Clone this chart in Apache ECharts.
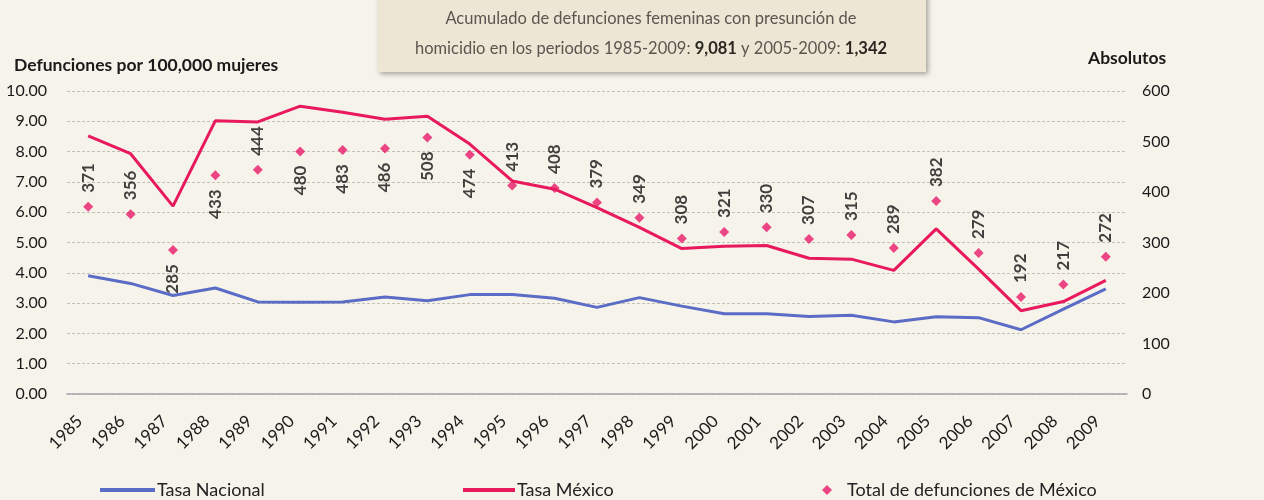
<!DOCTYPE html>
<html>
<head>
<meta charset="utf-8">
<script src="https://cdn.jsdelivr.net/npm/echarts@6/dist/echarts.min.js"></script>
<style>
html,body{margin:0;padding:0;background:#f6f3ea;}
#c{width:1264px;height:500px;}
</style>
</head>
<body>
<div id="c"></div>
<script>
const years = ['1985','1986','1987','1988','1989','1990','1991','1992','1993','1994','1995','1996','1997','1998','1999','2000','2001','2002','2003','2004','2005','2006','2007','2008','2009'];
const tasaNacional = [3.9,3.65,3.25,3.5,3.04,3.03,3.04,3.2,3.08,3.28,3.28,3.16,2.86,3.18,2.9,2.65,2.65,2.56,2.6,2.38,2.55,2.52,2.12,2.8,3.47];
const tasaMexico = [8.52,7.93,6.2,9.02,8.98,9.5,9.3,9.07,9.17,8.25,7.03,6.76,6.15,5.5,4.8,4.88,4.9,4.48,4.45,4.08,5.45,4.12,2.75,3.05,3.75];
const totalMexico = [371,356,285,433,444,480,483,486,508,474,413,408,379,349,308,321,330,307,315,289,382,279,192,217,272];
const leftTicks = [0,1,2,3,4,5,6,7,8,9,10];
const rightTicks = [0,100,200,300,400,500,600];
const labelsBelow = ['1987','1988','1990','1991','1992','1993','1994'];

const FONT = 'Lato, "Noto Sans", sans-serif';
const chart = echarts.init(document.getElementById('c'));

const scatterData = totalMexico.map((v, i) => {
  const below = labelsBelow.indexOf(years[i]) >= 0;
  return {
    value: v,
    label: below
      ? {position: 'bottom', align: 'right', distance: 9}
      : {position: 'top', align: 'left', distance: 9}
  };
});

chart.setOption({
  backgroundColor: '#f6f3ea',
  animation: false,
  title: [
    {text: 'Defunciones por 100,000 mujeres', left: 9, top: 51,
     textStyle: {fontFamily: FONT, fontSize: 17.5, fontWeight: 'bold', color: '#1a1a1a'}},
    {text: 'Absolutos', left: 1083, top: 44,
     textStyle: {fontFamily: FONT, fontSize: 17.5, fontWeight: 'bold', color: '#1a1a1a'}}
  ],
  graphic: [
    {type: 'rect', z: 10, shape: {x: 378, y: -6, width: 548, height: 78},
     style: {fill: '#ede6d4', shadowBlur: 5, shadowColor: 'rgba(0,0,0,0.35)', shadowOffsetX: 2, shadowOffsetY: 2}},
    {type: 'text', z: 11, style: {
      x: 651, y: 34, align: 'center', verticalAlign: 'middle',
      text: 'Acumulado de defunciones femeninas con presunción de\nhomicidio en los periodos 1985-2009: {b|9,081} y 2005-2009: {b|1,342}',
      fontFamily: FONT, fontSize: 16.5, fill: '#5a5650', lineHeight: 30,
      rich: {b: {fontFamily: FONT, fontSize: 16.5, fontWeight: 'bold', fill: '#2a2620', lineHeight: 30}}
    }}
  ],
  legend: [
    {data: ['Tasa Nacional'], left: 95, top: 476, itemWidth: 55, itemHeight: 4, icon: 'rect',
     textStyle: {fontFamily: FONT, fontSize: 18, color: '#222', padding: [0,0,0,-3]}},
    {data: ['Tasa México'], left: 458, top: 476, itemWidth: 52, itemHeight: 4, icon: 'rect',
     textStyle: {fontFamily: FONT, fontSize: 18, color: '#222', padding: [0,0,0,-3]}},
    {data: ['Total de defunciones de México'], left: 817, top: 476, itemWidth: 10, itemHeight: 10, icon: 'diamond',
     textStyle: {fontFamily: FONT, fontSize: 18, color: '#222', padding: [0,0,0,10]}}
  ],
  grid: {left: 67, right: 137, top: 91, bottom: 106},
  xAxis: {
    type: 'category', data: years, boundaryGap: true,
    axisLine: {lineStyle: {color: '#a8a4b2', width: 1.5}},
    axisTick: {inside: true, length: 4, lineStyle: {color: '#a8a4b2'}},
    axisLabel: {rotate: 45, margin: 16, interval: 0, fontFamily: FONT, fontSize: 17, color: '#1a1a1a', padding: [0, 12, 0, 0]}
  },
  yAxis: [
    {type: 'value', min: leftTicks[0], max: leftTicks[leftTicks.length-1], interval: 1,
     axisLine: {show: false}, axisTick: {show: false},
     axisLabel: {margin: 20, fontFamily: FONT, fontSize: 16, color: '#1a1a1a', formatter: v => v.toFixed(2)},
     splitLine: {lineStyle: {color: '#c4c0b8', type: [3, 2], width: 1}}},
    {type: 'value', min: rightTicks[0], max: rightTicks[rightTicks.length-1], interval: 100,
     axisLine: {show: false}, axisTick: {show: false}, splitLine: {show: false},
     axisLabel: {margin: 15, fontFamily: FONT, fontSize: 16, color: '#1a1a1a'}}
  ],
  series: [
    {name: 'Tasa Nacional', type: 'line', data: tasaNacional, yAxisIndex: 0,
     symbol: 'none', lineStyle: {color: '#5b6cc6', width: 3}, itemStyle: {color: '#5b6cc6'}},
    {name: 'Tasa México', type: 'line', data: tasaMexico, yAxisIndex: 0,
     symbol: 'none', lineStyle: {color: '#e8195d', width: 3}, itemStyle: {color: '#e8195d'}},
    {name: 'Total de defunciones de México', type: 'scatter', data: scatterData, yAxisIndex: 1,
     symbol: 'diamond', symbolSize: 10, itemStyle: {color: '#e8196a'},
     label: {show: true, rotate: 90, verticalAlign: 'middle', fontFamily: FONT, fontSize: 17, fontWeight: 'bold', color: '#111'}}
  ]
});
</script>
</body>
</html>
